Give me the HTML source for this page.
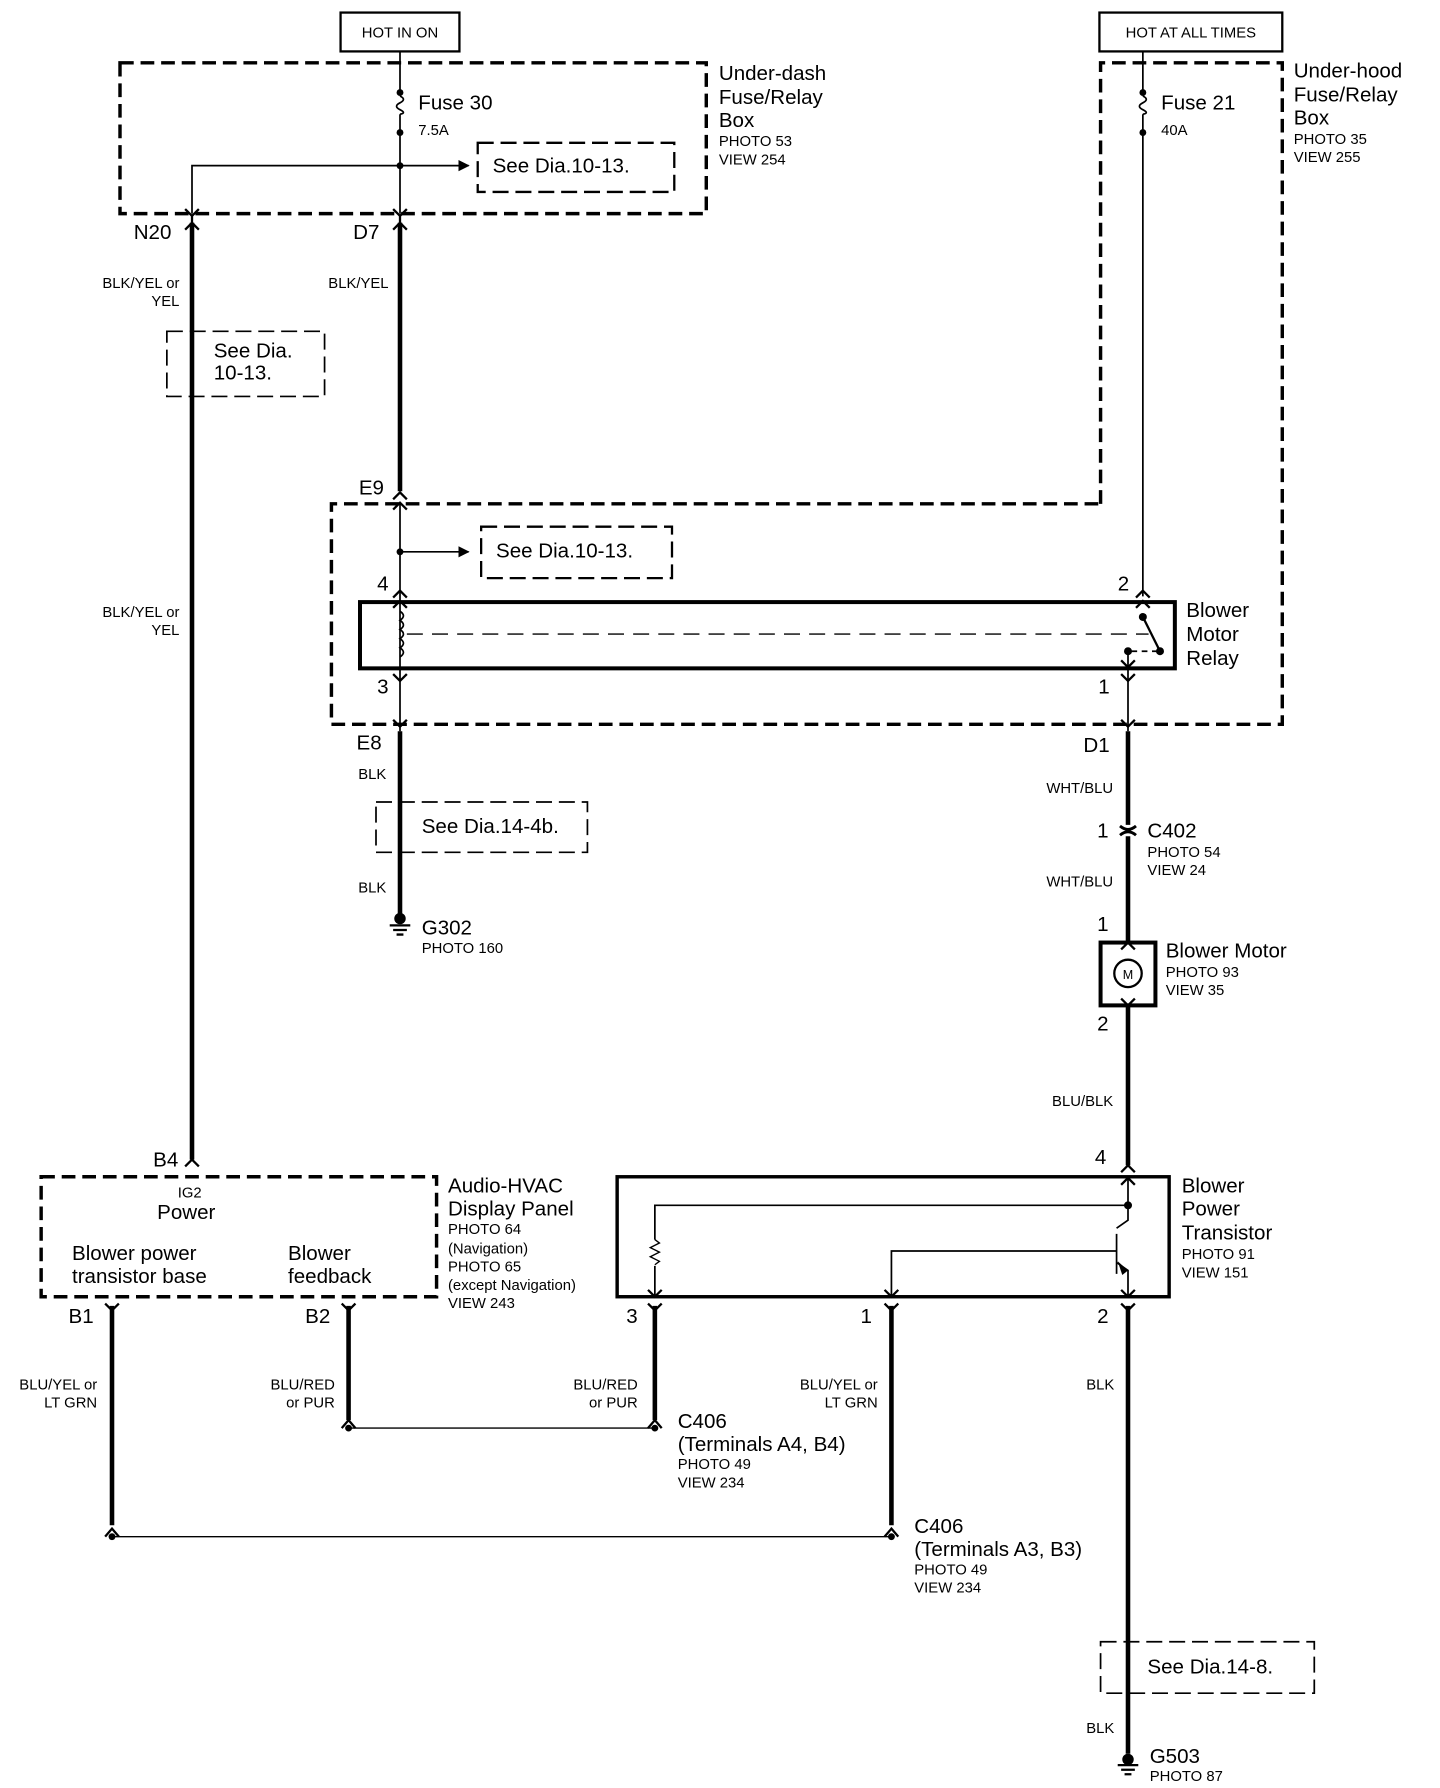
<!DOCTYPE html>
<html><head><meta charset="utf-8"><style>
html,body{margin:0;padding:0;background:#fff;}
svg{display:block;}
text{font-family:"Liberation Sans",Arial,sans-serif;fill:#000;}
.t{font-size:18px;}
.s{font-size:13px;}
.w{font-size:13px;}
</style></head><body>
<svg width="1440" height="1788" viewBox="0 0 1260 1565" preserveAspectRatio="none" xmlns="http://www.w3.org/2000/svg">
<defs>
<marker id="ar" markerWidth="10" markerHeight="10" refX="9" refY="5" orient="auto" markerUnits="userSpaceOnUse"><path d="M0,0 L10,5 L0,10 z" fill="#000"/></marker>
</defs>
<g fill="none" stroke="#000">
<rect x="298" y="11" width="104" height="34" stroke-width="2"/>
<rect x="962" y="11" width="160" height="34" stroke-width="2"/>
<rect x="105" y="55" width="513" height="132" stroke-width="3" stroke-dasharray="12,6"/>
<path d="M963,441 L963,55 L1122,55 L1122,634 L290,634 L290,441 Z" stroke-width="3" stroke-dasharray="12,6"/>
<rect x="418" y="125" width="172" height="43" stroke-width="2" stroke-dasharray="14,6"/>
<rect x="421" y="461" width="167" height="45" stroke-width="2" stroke-dasharray="14,6"/>
<rect x="146" y="290" width="138" height="57" stroke-width="1.5" stroke-dasharray="14,6"/>
<rect x="329" y="702" width="185" height="44" stroke-width="1.5" stroke-dasharray="14,6"/>
<rect x="963" y="1437" width="187" height="45" stroke-width="1.5" stroke-dasharray="14,6"/>
<rect x="36" y="1030" width="346" height="105" stroke-width="3" stroke-dasharray="12,6"/>
<rect x="315" y="527" width="713" height="58" stroke-width="3.5"/>
<rect x="540" y="1030" width="483" height="105" stroke-width="3"/>
<rect x="963" y="825" width="48" height="55" stroke-width="3.5"/>
<circle cx="987" cy="852" r="12" stroke-width="2"/>
<path d="M350,45 L350,81 M350,100 L350,187" stroke-width="1.5"/>
<path d="M350,84 q6,3 0,6 q-6,3 0,6 q6,3 0,4" stroke-width="1.5"/>
<path d="M350,145 L168,145 L168,187" stroke-width="1.5"/>
<path d="M350,145 L410,145" stroke-width="1.5" marker-end="url(#ar)"/>
<path d="M1000,45 L1000,81 M1000,100 L1000,522" stroke-width="1.5"/>
<path d="M1000,84 q6,3 0,6 q-6,3 0,6 q6,3 0,4" stroke-width="1.5"/>
<path d="M168,195 L168,1015" stroke-width="4"/>
<path d="M350,195 L350,430" stroke-width="4"/>
<path d="M350,640 L350,800" stroke-width="4"/>
<path d="M987,640 L987,722 M987,732 L987,825 M987,880 L987,1020" stroke-width="4"/>
<path d="M98,1143 L98,1335" stroke-width="4"/>
<path d="M305,1143 L305,1243" stroke-width="4"/>
<path d="M573,1143 L573,1243" stroke-width="4"/>
<path d="M780,1143 L780,1335" stroke-width="4"/>
<path d="M987,1143 L987,1535" stroke-width="4"/>
<path d="M980,723 q7,6 14,0 M980,731 q7,-6 14,0" stroke-width="2.5"/>
<path d="M350,440 L350,585 M350,585 L350,640" stroke-width="1.5"/>
<path d="M350,483 L410,483" stroke-width="1.5" marker-end="url(#ar)"/>
<path d="M987,570 L987,640" stroke-width="1.5"/>
<path d="M305,1250 L573,1250" stroke-width="1.2"/>
<path d="M98,1345 L780,1345" stroke-width="1.2"/>
<path d="M350,535 q6,4 0,8 q6,4 0,8 q6,4 0,8 q6,4 0,8 q6,4 0,8" stroke-width="1.5"/>
<path d="M356,555 L1005,555" stroke-width="1.2" stroke-dasharray="14,8"/>
<path d="M1000,540 L1015,570" stroke-width="2"/>
<path d="M990,570 L1013,570" stroke-width="1.5" stroke-dasharray="5,4"/>
<path d="M987,1030 L987,1068 L977,1075 M977,1080 L977,1115 M977,1095 L780,1095 L780,1135 M977,1105 L987,1112 L987,1135" stroke-width="1.5"/>
<path d="M987,1055 L573,1055 L573,1085 M573,1108 L573,1135" stroke-width="1.5"/>
<path d="M573,1085 l4,3 l-8,4 l8,4 l-8,4 l8,4 l-4,3" stroke-width="1.2"/>
<g stroke-width="2">
<path d="M162,183 L168,189 L174,183 M168,189 L168,195 M162,201 L168,195 L174,201"/>
<path d="M344,183 L350,189 L356,183 M350,189 L350,195 M344,201 L350,195 L356,201"/>
<path d="M344,437 L350,431 L356,437 M344,446 L350,440 L356,446"/>
<path d="M344,523 L350,517 L356,523 M344,532 L350,526 L356,532"/>
<path d="M994,523 L1000,517 L1006,523 M994,532 L1000,526 L1006,532"/>
<path d="M344,590 L350,596 L356,590 M344,630 L350,636 L356,630"/>
<path d="M981,590 L987,596 L993,590 M981,630 L987,636 L993,630"/>
<path d="M981,578 L987,584 L993,578"/>
<path d="M162,1021 L168,1015 L174,1021"/>
<path d="M981,1026 L987,1020 L993,1026 M981,1037 L987,1031 L993,1037"/>
<path d="M981,831 L987,825 L993,831 M981,874 L987,880 L993,874"/>
<path d="M92,1141 L98,1147 L104,1141 M299,1141 L305,1147 L311,1141 M567,1141 L573,1147 L579,1141 M774,1141 L780,1147 L786,1141 M981,1141 L987,1147 L993,1141"/>
<path d="M567,1129 L573,1135 L579,1129 M774,1129 L780,1135 L786,1129 M981,1129 L987,1135 L993,1129"/>
<path d="M299,1250 L305,1243 L311,1250 M567,1250 L573,1243 L579,1250 M92,1345 L98,1338 L104,1345 M774,1345 L780,1338 L786,1345"/>
</g>
<path d="M341,810 L359,810 M344,814 L356,814 M347,818 L353,818" stroke-width="2"/>
<path d="M978,1545 L996,1545 M981,1549 L993,1549 M984,1553 L990,1553" stroke-width="2"/>
</g>
<g fill="#000">
<circle cx="350" cy="81" r="3"/><circle cx="350" cy="116" r="3"/><circle cx="350" cy="145" r="3"/>
<circle cx="1000" cy="81" r="3"/><circle cx="1000" cy="116" r="3"/>
<circle cx="350" cy="483" r="3"/>
<circle cx="1000" cy="540" r="3.5"/><circle cx="1015" cy="570" r="3.5"/><circle cx="987" cy="570" r="3.5"/>
<circle cx="987" cy="1055" r="3.5"/>
<circle cx="305" cy="1250" r="3"/><circle cx="573" cy="1250" r="3"/>
<circle cx="98" cy="1345" r="3"/><circle cx="780" cy="1345" r="3"/>
<circle cx="350" cy="804" r="5"/><circle cx="987" cy="1540" r="5"/>
<path d="M987,1112 L978,1104 L982,1116 z"/>
</g>
<text class="s" x="350" y="33" text-anchor="middle">HOT IN ON</text>
<text class="s" x="1042" y="33" text-anchor="middle">HOT AT ALL TIMES</text>
<text class="t" x="629" y="70">Under-dash</text>
<text class="t" x="629" y="91">Fuse/Relay</text>
<text class="t" x="629" y="111">Box</text>
<text class="s" x="629" y="128">PHOTO 53</text>
<text class="s" x="629" y="144">VIEW 254</text>
<text class="t" x="1132" y="68">Under-hood</text>
<text class="t" x="1132" y="89">Fuse/Relay</text>
<text class="t" x="1132" y="109">Box</text>
<text class="s" x="1132" y="126">PHOTO 35</text>
<text class="s" x="1132" y="142">VIEW 255</text>
<text class="t" x="366" y="96">Fuse 30</text>
<text class="s" x="366" y="118">7.5A</text>
<text class="t" x="1016" y="96">Fuse 21</text>
<text class="s" x="1016" y="118">40A</text>
<text class="t" x="431" y="151">See Dia.10-13.</text>
<text class="t" x="434" y="488">See Dia.10-13.</text>
<text class="t" x="117" y="209">N20</text>
<text class="t" x="309" y="209">D7</text>
<text class="w" x="157" y="252" text-anchor="end">BLK/YEL or</text>
<text class="w" x="157" y="268" text-anchor="end">YEL</text>
<text class="w" x="340" y="252" text-anchor="end">BLK/YEL</text>
<text class="t" x="187" y="313">See  Dia.</text>
<text class="t" x="187" y="332">10-13.</text>
<text class="w" x="157" y="540" text-anchor="end">BLK/YEL or</text>
<text class="w" x="157" y="556" text-anchor="end">YEL</text>
<text class="t" x="314" y="433">E9</text>
<text class="t" x="330" y="517">4</text>
<text class="t" x="978" y="517">2</text>
<text class="t" x="330" y="607">3</text>
<text class="t" x="961" y="607">1</text>
<text class="t" x="1038" y="540">Blower</text>
<text class="t" x="1038" y="561">Motor</text>
<text class="t" x="1038" y="582">Relay</text>
<text class="t" x="312" y="656">E8</text>
<text class="t" x="948" y="658">D1</text>
<text class="w" x="338" y="682" text-anchor="end">BLK</text>
<text class="t" x="369" y="729">See Dia.14-4b.</text>
<text class="w" x="338" y="781" text-anchor="end">BLK</text>
<text class="t" x="369" y="818">G302</text>
<text class="s" x="369" y="834">PHOTO 160</text>
<text class="w" x="974" y="694" text-anchor="end">WHT/BLU</text>
<text class="t" x="960" y="733">1</text>
<text class="t" x="1004" y="733">C402</text>
<text class="s" x="1004" y="750">PHOTO 54</text>
<text class="s" x="1004" y="766">VIEW 24</text>
<text class="w" x="974" y="776" text-anchor="end">WHT/BLU</text>
<text class="t" x="960" y="815">1</text>
<text x="987" y="857" font-size="11" text-anchor="middle">M</text>
<text class="t" x="1020" y="838">Blower Motor</text>
<text class="s" x="1020" y="855">PHOTO 93</text>
<text class="s" x="1020" y="871">VIEW 35</text>
<text class="t" x="960" y="902">2</text>
<text class="w" x="974" y="968" text-anchor="end">BLU/BLK</text>
<text class="t" x="958" y="1019">4</text>
<text class="t" x="1034" y="1044">Blower</text>
<text class="t" x="1034" y="1064">Power</text>
<text class="t" x="1034" y="1085">Transistor</text>
<text class="s" x="1034" y="1102">PHOTO 91</text>
<text class="s" x="1034" y="1118">VIEW 151</text>
<text class="t" x="134" y="1021">B4</text>
<text class="s" x="166" y="1048" text-anchor="middle">IG2</text>
<text class="t" x="163" y="1067" text-anchor="middle">Power</text>
<text class="t" x="63" y="1103">Blower power</text>
<text class="t" x="63" y="1123">transistor base</text>
<text class="t" x="252" y="1103">Blower</text>
<text class="t" x="252" y="1123">feedback</text>
<text class="t" x="392" y="1044">Audio-HVAC</text>
<text class="t" x="392" y="1064">Display Panel</text>
<text class="s" x="392" y="1080">PHOTO 64</text>
<text class="s" x="392" y="1097">(Navigation)</text>
<text class="s" x="392" y="1113">PHOTO 65</text>
<text class="s" x="392" y="1129">(except Navigation)</text>
<text class="s" x="392" y="1145">VIEW 243</text>
<text class="t" x="60" y="1158">B1</text>
<text class="t" x="267" y="1158">B2</text>
<text class="t" x="548" y="1158">3</text>
<text class="t" x="753" y="1158">1</text>
<text class="t" x="960" y="1158">2</text>
<text class="w" x="85" y="1216" text-anchor="end">BLU/YEL or</text>
<text class="w" x="85" y="1232" text-anchor="end">LT GRN</text>
<text class="w" x="293" y="1216" text-anchor="end">BLU/RED</text>
<text class="w" x="293" y="1232" text-anchor="end">or PUR</text>
<text class="w" x="558" y="1216" text-anchor="end">BLU/RED</text>
<text class="w" x="558" y="1232" text-anchor="end">or PUR</text>
<text class="w" x="768" y="1216" text-anchor="end">BLU/YEL or</text>
<text class="w" x="768" y="1232" text-anchor="end">LT GRN</text>
<text class="w" x="975" y="1216" text-anchor="end">BLK</text>
<text class="t" x="593" y="1250">C406</text>
<text class="t" x="593" y="1270">(Terminals A4, B4)</text>
<text class="s" x="593" y="1286">PHOTO 49</text>
<text class="s" x="593" y="1302">VIEW 234</text>
<text class="t" x="800" y="1342">C406</text>
<text class="t" x="800" y="1362">(Terminals A3, B3)</text>
<text class="s" x="800" y="1378">PHOTO 49</text>
<text class="s" x="800" y="1394">VIEW 234</text>
<text class="t" x="1004" y="1465">See Dia.14-8.</text>
<text class="w" x="975" y="1517" text-anchor="end">BLK</text>
<text class="t" x="1006" y="1543">G503</text>
<text class="s" x="1006" y="1559">PHOTO 87</text>
</svg>
</body></html>
